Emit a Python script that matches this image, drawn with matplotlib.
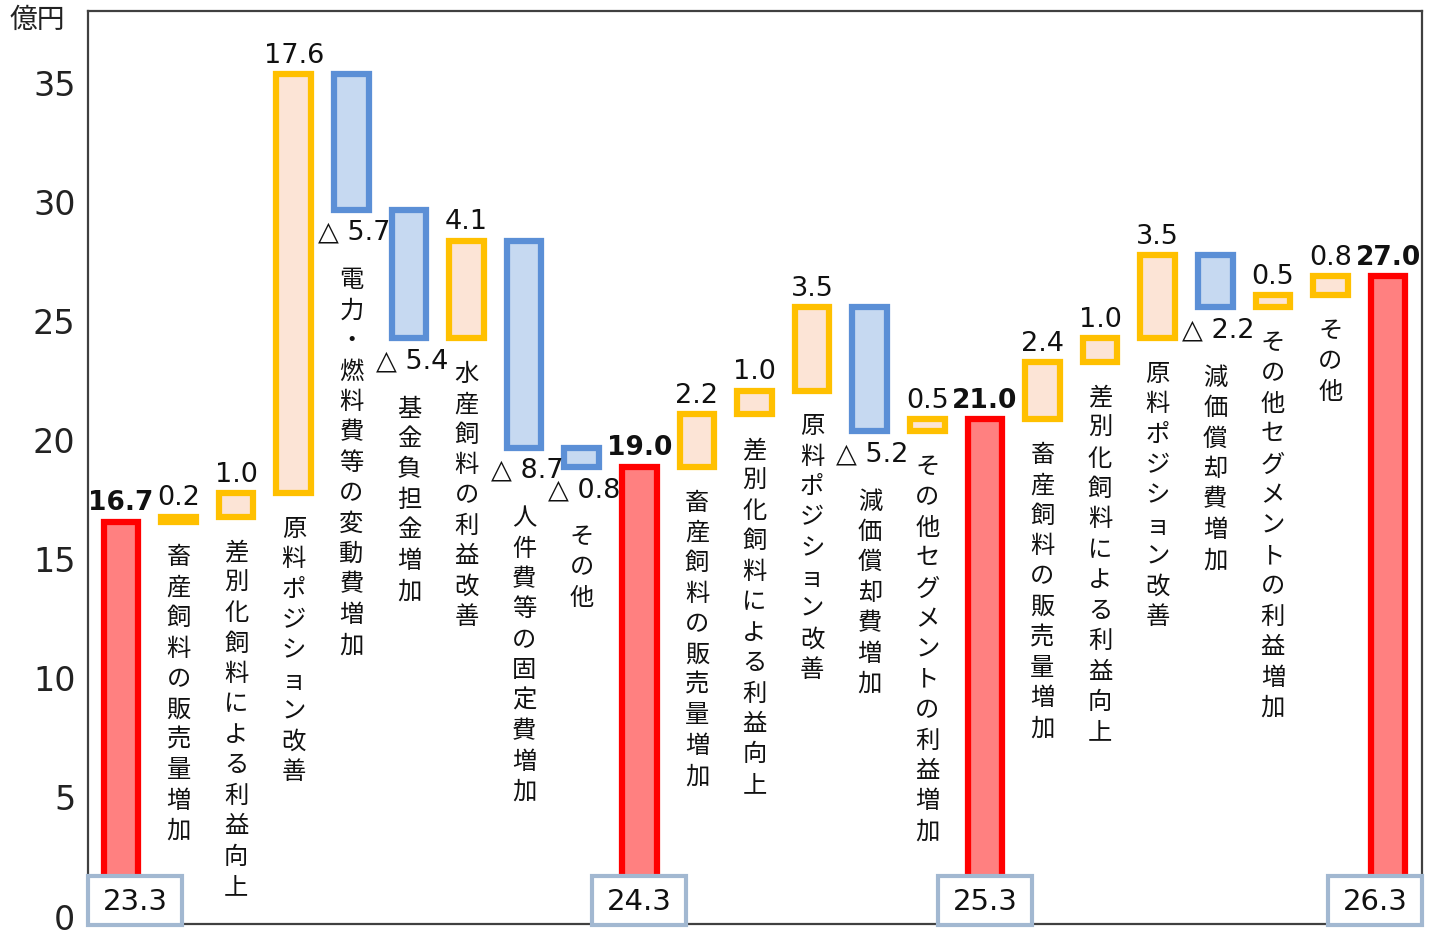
import matplotlib
matplotlib.use("Agg")
import matplotlib.pyplot as plt
from matplotlib.patches import Rectangle
import numpy as np

plt.rcParams['font.family'] = ['Noto Sans CJK JP', 'DejaVu Sans']

# waterfall data (億円)
categories = ['', '畜産飼料の販売量増加', '差別化飼料による利益向上', '原料ポジション改善',
              '電力・燃料費等の変動費増加', '基金負担金増加', '水産飼料の利益改善',
              '人件費等の固定費増加', 'その他',
              '', '畜産飼料の販売量増加', '差別化飼料による利益向上', '原料ポジション改善',
              '減価償却費増加', 'その他セグメントの利益増加',
              '', '畜産飼料の販売量増加', '差別化飼料による利益向上', '原料ポジション改善',
              '減価償却費増加', 'その他セグメントの利益増加', 'その他', '']
values = [16.7, 0.2, 1.0, 17.6, -5.7, -5.4, 4.1, -8.7, -0.8,
          19.0, 2.2, 1.0, 3.5, -5.2, 0.5,
          21.0, 2.4, 1.0, 3.5, -2.2, 0.5, 0.8, 27.0]
total_idx = [0, 9, 15, 22]
periods = ['23.3', '24.3', '25.3', '26.3']

RED_E, RED_F = '#FF0000', '#FF8080'
UP_E, UP_F = '#FFC000', '#FCE4D6'
DN_E, DN_F = '#5B8FD6', '#C6D9F1'
NUM_FONT = ['DejaVu Sans', 'Noto Sans CJK JP']

fig = plt.figure(figsize=(14.34, 9.37), dpi=100)
ax = fig.add_axes([88 / 1434, 12 / 937, (1422 - 88) / 1434, (925 - 12) / 937])

x = np.arange(len(values))
bottoms, heights, kinds = [], [], []
running = 0.0
for i, v in enumerate(values):
    if i in total_idx:
        bottoms.append(0.0)
        heights.append(v)
        kinds.append('total')
        running = v
    else:
        bottoms.append(min(running, running + v))
        heights.append(abs(v))
        kinds.append('up' if v > 0 else 'down')
        running += v

colors = {'total': (RED_F, RED_E), 'up': (UP_F, UP_E), 'down': (DN_F, DN_E)}
bw = 0.6
for i in x:
    fc, ec = colors[kinds[i]]
    ax.bar(x[i], heights[i], bottom=bottoms[i], width=bw, color=fc,
           edgecolor=ec, linewidth=4.5, zorder=2)

pitch = 21.9  # points between stacked characters
for i in x:
    top = bottoms[i] + heights[i]
    bot = bottoms[i]
    v = values[i]
    if kinds[i] == 'total':
        ax.annotate(f'{v:.1f}', (x[i], top), xytext=(0, 14), textcoords='offset points',
                    ha='center', va='center', fontsize=19, fontweight='bold',
                    family=NUM_FONT, color='#111111', zorder=5)
        continue
    if kinds[i] == 'up':
        ax.annotate(f'{v:.1f}', (x[i], top), xytext=(0, 14), textcoords='offset points',
                    ha='center', va='center', fontsize=19.5, family=NUM_FONT,
                    color='#111111', zorder=5)
        start = 25
    else:
        ax.annotate(f'△ {abs(v):.1f}', (x[i], bot), xytext=(2, -16),
                    textcoords='offset points', ha='center', va='center',
                    fontsize=19.5, family=NUM_FONT, color='#111111', zorder=5)
        start = 50
    # vertical category label, one character per line
    for k, ch in enumerate(categories[i]):
        ax.annotate(ch, (x[i], bot), xytext=(0, -start - k * pitch),
                    textcoords='offset points', ha='center', va='center',
                    fontsize=17.5, color='#111111', zorder=5)

ax.set_xlim(-0.573, 22.59)
ax.set_ylim(-0.21, 38.15)

# period boxes at the foot of each total bar
box_w, box_top = 1.632, 1.81
x0, x1 = ax.get_xlim()
for idx, label in zip(total_idx, periods):
    cx = min(max(idx, x0 + box_w / 2), x1 - box_w / 2)
    ax.add_patch(Rectangle((cx - box_w / 2, -0.25), box_w, box_top + 0.25,
                           facecolor='white', edgecolor='#A2B8D1', linewidth=3,
                           zorder=6, clip_on=False))
    ax.text(cx, (box_top - 0.3) / 2, label, ha='center', va='center',
            fontsize=21, family=NUM_FONT, color='#111111', zorder=7)

ax.set_yticks(np.arange(0, 36, 5))
ax.set_xticks([])
ax.tick_params(axis='y', length=0, pad=9, labelsize=24, labelcolor='#222222')
for lab in ax.get_yticklabels():
    lab.set_family(NUM_FONT)
    lab.set_verticalalignment('center')
for s in ax.spines.values():
    s.set_color('#404040')
    s.set_linewidth(1.6)

fig.text(10 / 1434, 1 - 20 / 937, '億円', ha='left', va='center', fontsize=20,
         color='#222222')

fig.savefig('out.png', dpi=100, facecolor='white')
